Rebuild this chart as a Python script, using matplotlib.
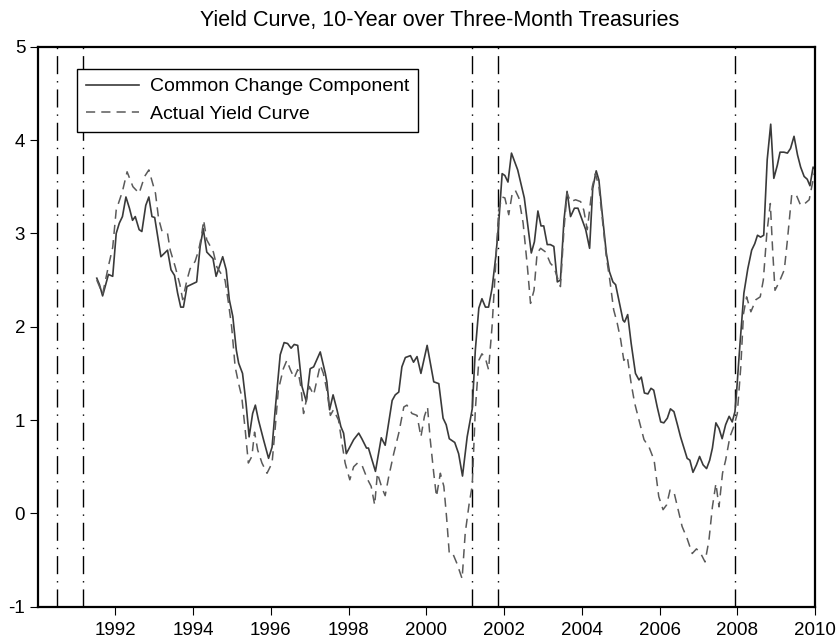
import matplotlib
matplotlib.use("Agg")
import matplotlib.pyplot as plt

plt.rcParams['font.family'] = ['Liberation Sans', 'DejaVu Sans']
plt.rcParams['axes.unicode_minus'] = False

# Common change component (solid line)
ccc_years = [1991.52, 1991.59, 1991.67, 1991.82, 1991.93, 1992.02, 1992.10, 1992.18, 1992.27, 1992.36,
             1992.44, 1992.51, 1992.61, 1992.68, 1992.78, 1992.86, 1992.94, 1993.01, 1993.17, 1993.34,
             1993.43, 1993.52, 1993.60, 1993.68, 1993.75, 1993.84, 1994.09, 1994.18, 1994.26, 1994.35,
             1994.51, 1994.59, 1994.76, 1994.85, 1994.93, 1995.02, 1995.11, 1995.17, 1995.27, 1995.36,
             1995.44, 1995.53, 1995.60, 1995.68, 1995.81, 1995.94, 1996.03, 1996.11, 1996.24, 1996.34,
             1996.43, 1996.52, 1996.60, 1996.69, 1996.80, 1996.91, 1997.01, 1997.10, 1997.27, 1997.40,
             1997.44, 1997.51, 1997.60, 1997.70, 1997.80, 1997.87, 1997.94, 1998.03, 1998.13, 1998.26,
             1998.34, 1998.46, 1998.51, 1998.69, 1998.84, 1998.94, 1999.12, 1999.20, 1999.29, 1999.37,
             1999.46, 1999.59, 1999.67, 1999.76, 1999.86, 2000.02, 2000.19, 2000.32, 2000.43, 2000.51,
             2000.59, 2000.73, 2000.83, 2000.93, 2001.05, 2001.18, 2001.26, 2001.35, 2001.43, 2001.52,
             2001.60, 2001.69, 2001.78, 2001.85, 2001.95, 2002.02, 2002.10, 2002.19, 2002.35, 2002.52,
             2002.70, 2002.78, 2002.87, 2002.95, 2003.02, 2003.11, 2003.19, 2003.28, 2003.37, 2003.45,
             2003.54, 2003.62, 2003.71, 2003.81, 2003.90, 2004.10, 2004.20, 2004.28, 2004.37, 2004.44,
             2004.52, 2004.63, 2004.71, 2004.80, 2004.87, 2004.97, 2005.06, 2005.10, 2005.18, 2005.27,
             2005.38, 2005.47, 2005.53, 2005.61, 2005.70, 2005.78, 2005.85, 2005.94, 2006.03, 2006.11,
             2006.20, 2006.28, 2006.37, 2006.46, 2006.54, 2006.63, 2006.71, 2006.78, 2006.86, 2006.95,
             2007.03, 2007.12, 2007.21, 2007.29, 2007.36, 2007.45, 2007.53, 2007.61, 2007.70, 2007.79,
             2007.87, 2007.94, 2007.98, 2008.07, 2008.17, 2008.27, 2008.37, 2008.45, 2008.52, 2008.60,
             2008.68, 2008.77, 2008.86, 2008.94, 2009.03, 2009.10, 2009.20, 2009.29, 2009.37, 2009.46,
             2009.55, 2009.63, 2009.72, 2009.80, 2009.87, 2009.95, 2010.00]
ccc_values = [2.52, 2.45, 2.33, 2.56, 2.54, 3.00, 3.11, 3.18, 3.39, 3.27,
              3.14, 3.18, 3.04, 3.02, 3.30, 3.39, 3.18, 3.17, 2.75, 2.82,
              2.61, 2.55, 2.36, 2.21, 2.21, 2.43, 2.48, 2.86, 3.05, 2.80,
              2.73, 2.54, 2.75, 2.61, 2.29, 2.11, 1.75, 1.61, 1.50, 1.18,
              0.82, 1.07, 1.16, 1.00, 0.79, 0.59, 0.71, 1.11, 1.70, 1.83,
              1.82, 1.77, 1.81, 1.80, 1.36, 1.20, 1.55, 1.57, 1.73, 1.50,
              1.41, 1.11, 1.27, 1.11, 0.93, 0.86, 0.64, 0.71, 0.79, 0.86,
              0.80, 0.70, 0.70, 0.45, 0.81, 0.73, 1.21, 1.27, 1.30, 1.57,
              1.67, 1.69, 1.62, 1.68, 1.50, 1.80, 1.41, 1.39, 1.02, 0.95,
              0.80, 0.76, 0.64, 0.40, 0.82, 1.12, 1.75, 2.20, 2.30, 2.21,
              2.21, 2.41, 2.73, 3.04, 3.64, 3.62, 3.55, 3.86, 3.68, 3.38,
              2.79, 2.91, 3.24, 3.08, 3.08, 2.88, 2.88, 2.86, 2.48, 2.50,
              3.14, 3.45, 3.18, 3.27, 3.27, 3.04, 2.84, 3.48, 3.67, 3.57,
              3.23, 2.79, 2.59, 2.48, 2.45, 2.25, 2.07, 2.05, 2.13, 1.82,
              1.50, 1.43, 1.46, 1.29, 1.28, 1.34, 1.32, 1.14, 0.98, 0.97,
              1.02, 1.12, 1.09, 0.95, 0.82, 0.70, 0.59, 0.57, 0.44, 0.52,
              0.61, 0.52, 0.48, 0.57, 0.70, 0.97, 0.91, 0.80, 0.95, 1.04,
              0.98, 1.09, 1.29, 1.82, 2.36, 2.62, 2.82, 2.89, 2.98, 2.96,
              2.98, 3.79, 4.17, 3.59, 3.73, 3.87, 3.87, 3.86, 3.91, 4.04,
              3.84, 3.71, 3.61, 3.58, 3.51, 3.71, 3.69]

# Actual yield curve (dashed line)
ayc_years = [1991.52, 1991.67, 1991.82, 1991.93, 1992.02, 1992.10, 1992.18, 1992.30, 1992.45, 1992.61,
             1992.75, 1992.86, 1993.03, 1993.11, 1993.20, 1993.34, 1993.41, 1993.54, 1993.66, 1993.73,
             1993.84, 1993.92, 1994.05, 1994.14, 1994.21, 1994.27, 1994.35, 1994.43, 1994.52, 1994.61,
             1994.82, 1994.91, 1994.99, 1995.08, 1995.17, 1995.25, 1995.34, 1995.42, 1995.51, 1995.58,
             1995.66, 1995.77, 1995.90, 1996.03, 1996.11, 1996.19, 1996.32, 1996.41, 1996.50, 1996.60,
             1996.69, 1996.77, 1996.84, 1996.91, 1996.99, 1997.10, 1997.27, 1997.35, 1997.44, 1997.53,
             1997.61, 1997.74, 1997.83, 1997.91, 1998.03, 1998.13, 1998.23, 1998.34, 1998.48, 1998.58,
             1998.67, 1998.74, 1998.86, 1998.94, 1999.03, 1999.16, 1999.29, 1999.42, 1999.50, 1999.63,
             1999.76, 1999.86, 1999.95, 2000.03, 2000.10, 2000.19, 2000.26, 2000.36, 2000.45, 2000.52,
             2000.59, 2000.68, 2000.79, 2000.92, 2001.00, 2001.10, 2001.18, 2001.26, 2001.35, 2001.43,
             2001.52, 2001.60, 2001.69, 2001.78, 2001.86, 2001.95, 2002.02, 2002.12, 2002.21, 2002.29,
             2002.38, 2002.49, 2002.60, 2002.68, 2002.77, 2002.85, 2002.94, 2003.07, 2003.19, 2003.28,
             2003.45, 2003.54, 2003.62, 2003.71, 2003.84, 2003.97, 2004.05, 2004.14, 2004.27, 2004.35,
             2004.44, 2004.52, 2004.63, 2004.72, 2004.82, 2004.91, 2005.00, 2005.08, 2005.17, 2005.27,
             2005.36, 2005.47, 2005.60, 2005.73, 2005.86, 2005.98, 2006.09, 2006.18, 2006.27, 2006.37,
             2006.50, 2006.58, 2006.71, 2006.84, 2006.95, 2007.06, 2007.17, 2007.27, 2007.36, 2007.45,
             2007.53, 2007.62, 2007.70, 2007.81, 2007.91, 2008.00, 2008.09, 2008.16, 2008.24, 2008.35,
             2008.48, 2008.59, 2008.67, 2008.76, 2008.85, 2008.91, 2008.97, 2009.08, 2009.21, 2009.29,
             2009.40, 2009.51, 2009.63, 2009.74, 2009.85, 2009.94, 2010.00]
ayc_values = [2.50, 2.35, 2.65, 2.85, 3.25, 3.35, 3.45, 3.66, 3.50, 3.43,
              3.61, 3.68, 3.43, 3.16, 3.02, 3.00, 2.82, 2.64, 2.45, 2.29,
              2.50, 2.62, 2.70, 2.82, 2.96, 3.14, 2.93, 2.87, 2.80, 2.64,
              2.50, 2.25, 2.00, 1.57, 1.39, 1.25, 0.89, 0.54, 0.61, 0.87,
              0.68, 0.54, 0.43, 0.54, 0.91, 1.32, 1.55, 1.64, 1.54, 1.45,
              1.54, 1.36, 1.07, 1.21, 1.36, 1.27, 1.59, 1.50, 1.32, 1.05,
              1.11, 1.00, 0.75, 0.54, 0.36, 0.50, 0.54, 0.52, 0.37, 0.29,
              0.09, 0.43, 0.27, 0.19, 0.39, 0.64, 0.86, 1.14, 1.16, 1.07,
              1.05, 0.82, 1.04, 1.14, 0.79, 0.43, 0.18, 0.43, 0.29, -0.04,
              -0.43, -0.43, -0.54, -0.70, -0.21, 0.10, 0.30, 1.11, 1.64, 1.71,
              1.66, 1.54, 2.00, 2.64, 3.25, 3.39, 3.38, 3.20, 3.43, 3.46,
              3.38, 3.11, 2.64, 2.25, 2.39, 2.79, 2.84, 2.80, 2.68, 2.64,
              2.43, 3.04, 3.43, 3.34, 3.36, 3.34, 3.25, 3.04, 3.50, 3.64,
              3.50, 3.18, 2.75, 2.50, 2.18, 2.04, 1.86, 1.64, 1.68, 1.39,
              1.18, 1.00, 0.79, 0.71, 0.57, 0.18, 0.04, 0.09, 0.25, 0.23,
              0.00, -0.14, -0.27, -0.43, -0.38, -0.43, -0.52, -0.29, 0.07, 0.32,
              0.07, 0.43, 0.57, 0.82, 0.93, 1.07, 1.57, 2.14, 2.32, 2.16,
              2.29, 2.32, 2.50, 3.00, 3.32, 2.82, 2.39, 2.48, 2.61, 2.93,
              3.41, 3.42, 3.30, 3.32, 3.36, 3.55, 3.68]

# recession start / end dates
recession_dates = [1990.50, 1991.17, 2001.17, 2001.84, 2007.95]

xticks = [1992, 1994, 1996, 1998, 2000, 2002, 2004, 2006, 2008, 2010]
yticks = [-1, 0, 1, 2, 3, 4, 5]

fig = plt.figure(figsize=(8.36, 6.39), dpi=100)
ax = fig.add_axes([0.0451, 0.0505, 0.9298, 0.8764])

for d in recession_dates:
    ax.axvline(d, color='black', lw=1.0, dashes=(13, 5, 1, 5), zorder=1)

ax.plot(ccc_years, ccc_values, color='#3a3a3a', lw=1.2, label='Common Change Component', zorder=2)
ax.plot(ayc_years, ayc_values, color='#5a5a5a', lw=1.1, dashes=(6, 4),
        label='Actual Yield Curve', zorder=2)

ax.set_xlim(1990, 2010)
ax.set_ylim(-1, 5)
ax.set_xticks(xticks)
ax.set_yticks(yticks)
ax.tick_params(axis='both', labelsize=13.5, length=6, width=0.8, direction='out')
ax.tick_params(axis='y', pad=3)
ax.tick_params(axis='x', pad=5)
for s in ax.spines.values():
    s.set_linewidth(1.6)

ax.set_title('Yield Curve, 10-Year over Three-Month Treasuries', fontsize=15.5, pad=15, x=0.517)

leg = ax.legend(loc='upper left', bbox_to_anchor=(0.0506, 0.960), fontsize=14,
                handlelength=2.75, handletextpad=0.57, fancybox=False, framealpha=1,
                edgecolor='black', borderaxespad=0, borderpad=0.45, labelspacing=0.5)
leg.get_frame().set_linewidth(1.0)
leg.set_zorder(5)

fig.savefig('out.png', dpi=100)
